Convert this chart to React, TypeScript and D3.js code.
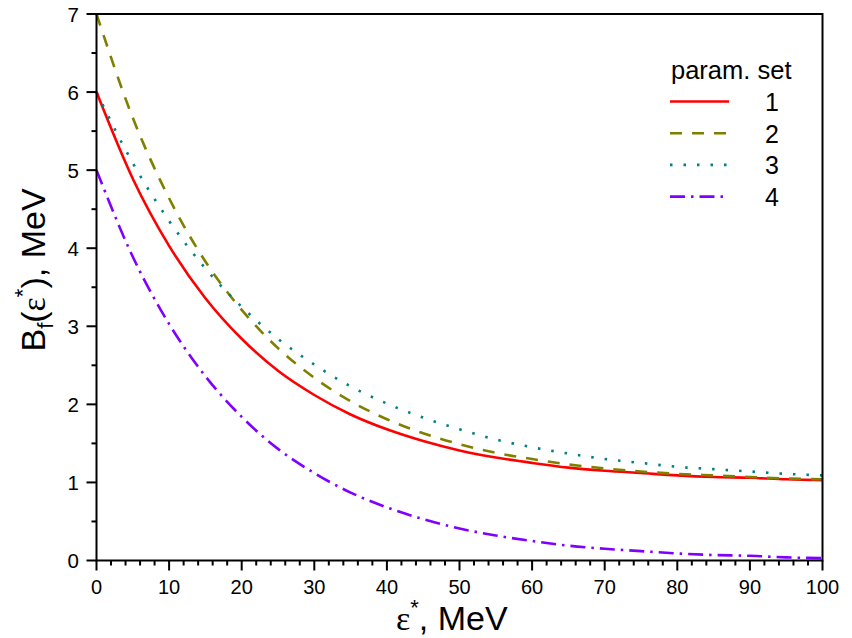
import React, { useEffect, useRef } from "react";
import * as d3 from "d3";

// excitation energy grid, MeV
const energies = [0, 5, 10, 15, 20, 25, 30, 35, 40, 45, 50, 55, 60, 65, 70, 75, 80, 85, 90, 95, 100];

// B_f(eps*) for each parameter set, MeV
const set1 = [6.0, 4.89, 4.03, 3.36, 2.84, 2.43, 2.12, 1.87, 1.68, 1.53, 1.41, 1.32, 1.25, 1.19, 1.15, 1.12, 1.09, 1.07, 1.06, 1.04, 1.03];
const set2 = [7.0, 5.67, 4.64, 3.83, 3.21, 2.72, 2.34, 2.04, 1.81, 1.63, 1.49, 1.38, 1.3, 1.23, 1.18, 1.14, 1.11, 1.09, 1.07, 1.05, 1.04];
const set3 = [6.0, 5.09, 4.35, 3.74, 3.25, 2.84, 2.51, 2.23, 2.01, 1.83, 1.68, 1.55, 1.45, 1.37, 1.3, 1.25, 1.2, 1.17, 1.14, 1.11, 1.09];
const set4 = [5.0, 3.89, 3.03, 2.36, 1.84, 1.43, 1.12, 0.87, 0.68, 0.53, 0.41, 0.32, 0.25, 0.19, 0.15, 0.12, 0.09, 0.07, 0.06, 0.04, 0.03];

const seriesNames = ["1", "2", "3", "4"];
const xTicks = [0, 10, 20, 30, 40, 50, 60, 70, 80, 90, 100];
const yTicks = [0, 1, 2, 3, 4, 5, 6, 7];

const colors = ["#ff0000", "#808000", "#008080", "#8000ff"];
const dashes = [null, "12,10", "2.5,11", "15,6,2.5,6"];

const FONT = "'Liberation Sans', Arial, sans-serif";
const SERIF = "'Liberation Serif', 'Times New Roman', serif";

const App = () => {
  const gRef = useRef<SVGGElement>(null);
  const margin = { top: 14, right: 30, bottom: 78, left: 96.5 };
  const W = 852;
  const H = 638;

  useEffect(() => {
    const svg = d3.select(gRef.current);
    svg.selectAll("*").remove();

    const x = d3.scaleLinear().domain([0, 100]).range([margin.left, W - margin.right + 0.5]);
    const y = d3.scaleLinear().domain([0, 7]).range([560.5, margin.top]);

    const all = [set1, set2, set3, set4];

    const line = d3
      .line<number>()
      .x((d, i) => x(energies[i]))
      .y((d) => y(d))
      .curve(d3.curveMonotoneX);

    const plot = svg.append("g");
    all.forEach((vals, k) => {
      const p = plot
        .append("path")
        .attr("d", line(vals))
        .attr("fill", "none")
        .attr("stroke", colors[k])
        .attr("stroke-width", 2.6);
      if (dashes[k]) p.attr("stroke-dasharray", dashes[k]!);
    });

    // frame
    svg
      .append("rect")
      .attr("x", x(0))
      .attr("y", y(7))
      .attr("width", x(100) - x(0))
      .attr("height", y(0) - y(7))
      .attr("fill", "none")
      .attr("stroke", "#000")
      .attr("stroke-width", 2);

    // x ticks
    const xMinor = d3.range(0, 101, 2).filter((v) => v % 10 !== 0);
    const xa = svg.append("g").attr("stroke", "#000").attr("stroke-width", 2);
    xTicks.forEach((v) => {
      xa.append("line").attr("x1", x(v)).attr("x2", x(v)).attr("y1", y(0)).attr("y2", y(0) + 10);
    });
    xMinor.forEach((v) => {
      xa.append("line").attr("x1", x(v)).attr("x2", x(v)).attr("y1", y(0)).attr("y2", y(0) + 5);
    });
    svg
      .append("g")
      .selectAll("text")
      .data(xTicks)
      .enter()
      .append("text")
      .attr("x", (d) => x(d))
      .attr("y", 594)
      .attr("text-anchor", "middle")
      .attr("font-family", FONT)
      .attr("font-size", 20)
      .text((d) => d);

    // y ticks
    const yMinor = d3.range(0.5, 7, 1);
    const ya = svg.append("g").attr("stroke", "#000").attr("stroke-width", 2);
    yTicks.forEach((v) => {
      ya.append("line").attr("x1", x(0) - 10).attr("x2", x(0)).attr("y1", y(v)).attr("y2", y(v));
    });
    yMinor.forEach((v) => {
      ya.append("line").attr("x1", x(0) - 5).attr("x2", x(0)).attr("y1", y(v)).attr("y2", y(v));
    });
    svg
      .append("g")
      .selectAll("text")
      .data(yTicks)
      .enter()
      .append("text")
      .attr("x", 79)
      .attr("y", (d) => y(d) + 7.5)
      .attr("text-anchor", "end")
      .attr("font-family", FONT)
      .attr("font-size", 20.5)
      .text((d) => d);

    // legend
    const lg = svg.append("g");
    lg.append("text")
      .attr("x", 671)
      .attr("y", 79)
      .attr("font-family", FONT)
      .attr("font-size", 25.5)
      .text("param. set");
    seriesNames.forEach((name, k) => {
      const ly = 101.5 + k * 31.7;
      const l = lg
        .append("line")
        .attr("x1", 670)
        .attr("x2", 729)
        .attr("y1", ly)
        .attr("y2", ly)
        .attr("stroke", colors[k])
        .attr("stroke-width", 2.6);
      if (dashes[k]) l.attr("stroke-dasharray", dashes[k]!);
      lg.append("text")
        .attr("x", 772)
        .attr("y", ly + 9.5)
        .attr("text-anchor", "middle")
        .attr("font-family", FONT)
        .attr("font-size", 25)
        .text(name);
    });
  }, []);

  return (
    <svg width={W} height={H} style={{ display: "block", position: "absolute", left: 0, top: 0 }}>
      <g ref={gRef} />
      {/* axis titles */}
      <text x={396} y={630} fontFamily={FONT} fontSize={34}>
        <tspan fontFamily={SERIF} fontSize={34}>ε</tspan>
        <tspan fontSize={22} dy={-15}>*</tspan>
        <tspan dy={15}>, MeV</tspan>
      </text>
      <text
        x={0}
        y={0}
        transform="translate(45,270) rotate(-90)"
        textAnchor="middle"
        fontFamily={FONT}
        fontSize={34}
      >
        B
        <tspan fontSize={22} dy={8}>f</tspan>
        <tspan dy={-8}>(</tspan>
        <tspan fontFamily={SERIF}>ε</tspan>
        <tspan fontSize={22} dy={-15}>*</tspan>
        <tspan dy={15}>), MeV</tspan>
      </text>
    </svg>
  );
};

export default App;
